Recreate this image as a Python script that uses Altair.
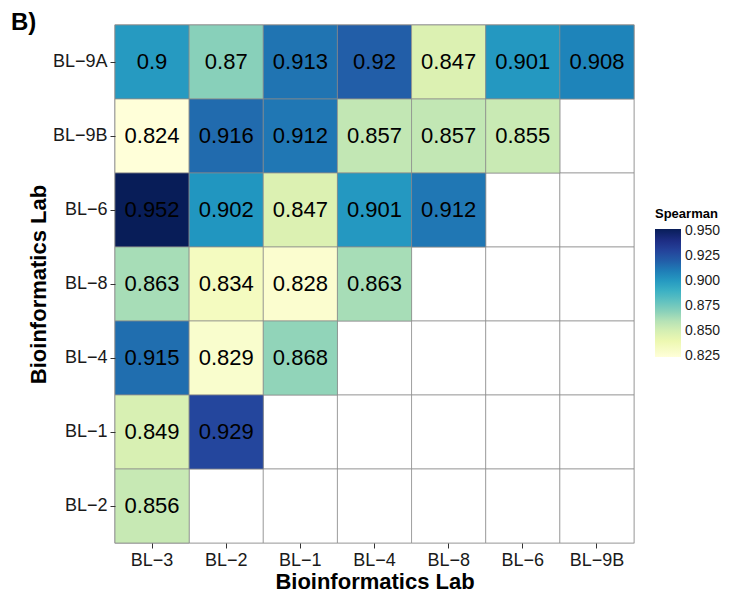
import altair as alt
import pandas as pd

FONT = "Liberation Sans"

x_labels = ["BL−3", "BL−2", "BL−1", "BL−4", "BL−8", "BL−6", "BL−9B"]
y_labels = ["BL−9A", "BL−9B", "BL−6", "BL−8", "BL−4", "BL−1", "BL−2"]

row_9A = [0.9, 0.87, 0.913, 0.92, 0.847, 0.901, 0.908]
row_9B = [0.824, 0.916, 0.912, 0.857, 0.857, 0.855]
row_6 = [0.952, 0.902, 0.847, 0.901, 0.912]
row_8 = [0.863, 0.834, 0.828, 0.863]
row_4 = [0.915, 0.829, 0.868]
row_1 = [0.849, 0.929]
row_2 = [0.856]

rows = [row_9A, row_9B, row_6, row_8, row_4, row_1, row_2]

legend_values = [0.825, 0.85, 0.875, 0.9, 0.925, 0.95]
palette = ["#ffffd9", "#edf8b1", "#c7e9b4", "#7fcdbb", "#41b6c4",
           "#1d91c0", "#225ea8", "#253494", "#081d58"]

records = []
for ylab, vals in zip(y_labels, rows):
    for xlab, v in zip(x_labels, vals):
        records.append({"x": xlab, "y": ylab, "Spearman": v, "label": str(v)})
df = pd.DataFrame(records)

grid = pd.DataFrame([{"x": xl, "y": yl} for yl in y_labels for xl in x_labels])

xenc = alt.X("x:N", sort=x_labels, scale=alt.Scale(paddingInner=0, paddingOuter=0),
             axis=alt.Axis(title="Bioinformatics Lab", labelAngle=0))
yenc = alt.Y("y:N", sort=y_labels, scale=alt.Scale(paddingInner=0, paddingOuter=0),
             axis=alt.Axis(title="Bioinformatics Lab"))

bg = alt.Chart(grid).mark_rect(fill="white", stroke="#8a8a8a", strokeWidth=0.7).encode(x=xenc, y=yenc)

cells = alt.Chart(df).mark_rect(stroke="#8a8a8a", strokeWidth=0.7).encode(
    x=xenc, y=yenc,
    color=alt.Color(
        "Spearman:Q",
        scale=alt.Scale(range=palette, domain=[0.824, 0.952], interpolate="rgb"),
        legend=alt.Legend(
            title="Spearman", orient="none", legendX=540, legendY=183,
            values=legend_values, format=".3f", labelOverlap=False,
            gradientLength=128, gradientThickness=26,
            titleFont=FONT, titleFontSize=13, titleFontWeight="bold", titleColor="black",
            labelFont=FONT, labelFontSize=14, labelColor="#1a1a1a",
            gradientStrokeWidth=0, titlePadding=8, labelOffset=4,
        ),
    ),
)

texts = alt.Chart(df).mark_text(font=FONT, fontSize=22, color="black").encode(
    x=xenc, y=yenc, text="label:N"
)

panel = alt.Chart(pd.DataFrame({"t": ["B)"]})).mark_text(
    font=FONT, fontSize=24, fontWeight="bold", align="left", baseline="alphabetic", color="black"
).encode(x=alt.value(-104), y=alt.value(5), text="t:N")

chart = alt.layer(bg, cells, texts, panel).properties(
    width=519, height=518,
    autosize=alt.AutoSizeParams(type="none"),
    padding={"left": 107, "top": 17, "right": 87, "bottom": 52},
).configure_view(stroke="#d0d0d0", strokeWidth=1.5).configure_axis(
    labelFont=FONT, labelFontSize=18, labelColor="#1a1a1a",
    titleFont=FONT, titleFontSize=22, titleFontWeight="bold", titleColor="black",
    tickColor="#333333", tickSize=5, tickWidth=1, domain=False, grid=False,
    labelPadding=3, titlePadding=2,
)

chart.save("out.html", embed_options={"renderer": "svg", "actions": False})
